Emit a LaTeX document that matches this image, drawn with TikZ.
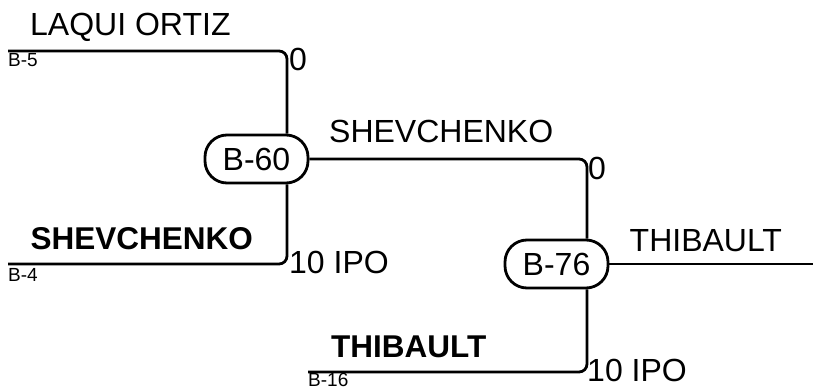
\documentclass[tikz,border=0pt]{standalone}
\usepackage{fontspec}
\setmainfont{Liberation Sans}
\begin{document}
\begin{tikzpicture}[x=1pt,y=-1pt,
  conn/.style={line width=2.8pt, rounded corners=8pt},
  bnode/.style={draw, line width=2.8pt, rounded corners=22pt, minimum width=103pt, minimum height=48pt, inner sep=0pt, font=\fontsize{32}{36}\selectfont},
  big/.style={anchor=base west, inner sep=0pt, font=\fontsize{32}{36}\selectfont},
  bigb/.style={anchor=base west, inner sep=0pt, font=\fontsize{31.5}{36}\selectfont\bfseries},
  small/.style={anchor=base west, inner sep=0pt, font=\fontsize{19}{20}\selectfont}]
\useasboundingbox (0,0) rectangle (813,387);
% nodes
\node[bnode] (B60) at (256.5,159) {B-60};
\node[bnode] (B76) at (556.5,264) {B-76};
\coordinate (x1) at (287,0);
\coordinate (x2) at (587,0);
\coordinate (b5) at (8,51);
\coordinate (b4) at (8,264);
\coordinate (b16) at (308,372);
\coordinate (out) at (813,264);
% connectors
\draw[conn] (b5) -| (B60.north -| x1);
\draw[conn] (b4) -| (B60.south -| x1);
\draw[conn] (B60.east) -| (B76.north -| x2);
\draw[conn] (B76.south -| x2) |- (b16);
\draw[conn] (B76.east) -- (out);
% labels
\node[big] (t1) at (30,36) {LAQUI ORTIZ};
\node[small] (l5) at (8,66.5) {B-5};
\node[big] (z1) at (289,71) {0};
\node[bigb] (t2) at (30.4,249.5) {SHEVCHENKO};
\node[small] (l4) at (8,281) {B-4};
\node[big] (i1) at (289,273) {10 IPO};
\node[big] (t3) at (329,142.5) {SHEVCHENKO};
\node[big] (z2) at (588,180) {0};
\node[big] (t4) at (629.5,251.7) {THIBAULT};
\node[bigb] (t5) at (331,357.3) {THIBAULT};
\node[small] (l16) at (308,386) {B-16};
\node[big] (i2) at (587,381.7) {10 IPO};
\end{tikzpicture}
\end{document}
